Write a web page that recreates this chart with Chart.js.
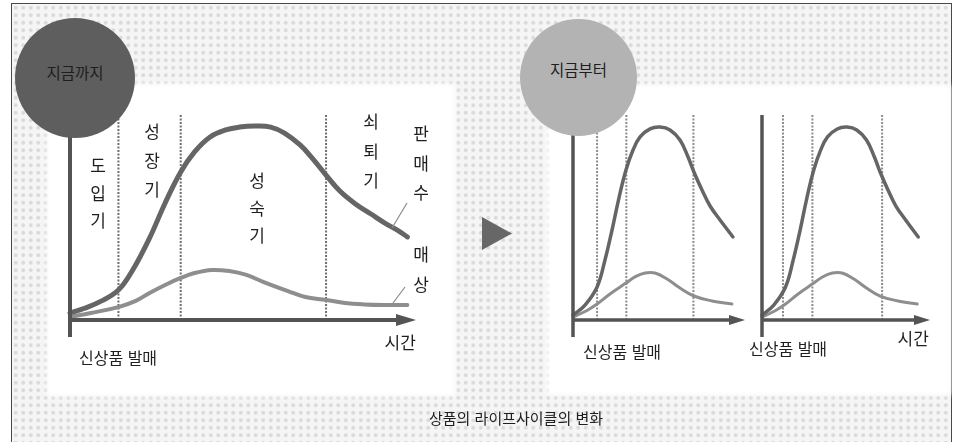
<!DOCTYPE html>
<html lang="ko">
<head>
<meta charset="utf-8">
<title>상품의 라이프사이클의 변화</title>
<script src="https://cdn.jsdelivr.net/npm/chart.js@4/dist/chart.umd.min.js"></script>
<style>
  html, body { margin: 0; padding: 0; background: #fff; }
  body { width: 961px; height: 442px; position: relative; overflow: hidden;
         font-family: "Noto Sans CJK KR", "Noto Sans", sans-serif; color: #1e1e1e; }
  #frame { position: absolute; left: 11px; top: 3px; width: 941px; height: 470px;
           border: 1.5px solid #4a4a4a; box-sizing: border-box;
           background-color: #f5f5f5;
           background-image: radial-gradient(circle, #dadada 0 1.5px, rgba(218,218,218,0) 2.3px);
           background-size: 7.5px 7.5px; }
  .panel { position: absolute; background: #fff; box-shadow: 0 0 5px 3px #fff; }
  canvas { position: absolute; }
  .bubble { position: absolute; border-radius: 50%; z-index: 5; }
  .bubble span { position: absolute; left: 0; right: 0; text-align: center; font-size: 15.5px; }
  .lbl { position: absolute; font-size: 16px; white-space: nowrap; z-index: 6; }
  .vlbl { position: absolute; font-size: 17px; text-align: center; width: 24px; z-index: 6; }
  svg.deco { position: absolute; left: 0; top: 0; z-index: 4; }
</style>
</head>
<body>
<div id="frame"></div>
<div class="panel" style="left:50px; top:87px; width:402px; height:306px;"></div>
<div class="panel" style="left:550px; top:88px; width:398px; height:304px;"></div>

<canvas id="nowChart" width="400" height="270" style="left:50px; top:90px;"></canvas>
<canvas id="nextChartA" width="195" height="270" style="left:555px; top:90px;"></canvas>
<canvas id="nextChartB" width="195" height="270" style="left:750px; top:90px;"></canvas>

<svg class="deco" width="961" height="442">
  <polygon points="482,217 482,250 512,233.5" fill="#676767"/>
  <line x1="407" y1="203" x2="392" y2="228" stroke="#8a8a8a" stroke-width="1.2"/>
  <line x1="405" y1="287" x2="393" y2="303" stroke="#8a8a8a" stroke-width="1.2"/>
</svg>

<div class="bubble" style="left:15px; top:18px; width:120px; height:120px; background:#5e5e5e;">
  <span style="top:43px;">지금까지</span>
</div>
<div class="bubble" style="left:520px; top:19px; width:117px; height:117px; background:#b3b3b3;">
  <span style="top:39px;">지금부터</span>
</div>

<div id="labels"></div>

<script>
// Stage names of the product life cycle
const stageNames = ['도입기', '성장기', '성숙기', '쇠퇴기'];
const seriesNames = ['판매수', '매상'];

// Until now: one long cycle (time 0–100, level 0–100)
const nowUnitsTime = [0, 4, 9, 14, 18, 23, 27.5, 32, 36, 40.5, 45, 49, 53.5, 58, 62, 66.5, 70, 74, 78, 82.5, 87, 91, 95.5, 97.5];
const nowUnits     = [3.4, 5.6, 9.2, 14.6, 24.0, 40.0, 57.1, 72.2, 82.0, 89.3, 92.7, 94.1, 94.6, 94.1, 91.2, 85.4, 79.0, 70.7, 62.9, 56.6, 51.7, 47.3, 42.9, 40.5];
const nowSalesTime = [0, 6, 14, 19, 23, 27.5, 32, 36, 41, 46, 51, 56, 63, 68, 74, 79.5, 85, 91, 97.5];
const nowSales     = [1.5, 3.4, 6.3, 9.3, 13.2, 17.1, 20.5, 22.9, 24.4, 23.9, 22.0, 18.5, 14.1, 11.2, 9.8, 8.3, 7.6, 7.3, 7.3];
const nowStageBounds = [14, 32, 74];

// From now on: shorter, repeated cycles
const nextUnitsTime = [0, 7, 14, 18.6, 22.7, 26.7, 30.8, 34.9, 39, 44.8, 50.6, 56.4, 62.2, 66.9, 70.3, 75, 79.7, 85.5, 93];
const nextUnits     = [2.4, 7.3, 16.1, 29.3, 43.9, 59.5, 73.2, 82.9, 89.3, 93.2, 94.1, 92.7, 87.8, 79.5, 72.2, 63.4, 55.6, 48.8, 40.5];
const nextSalesTime = [0, 7.6, 14, 21.5, 30.8, 36, 41.9, 47.7, 54.7, 62.2, 70.3, 80.8, 92.4];
const nextSales     = [1.5, 4.4, 7.8, 12.7, 18.0, 21.0, 22.9, 22.9, 20.0, 15.6, 11.7, 9.3, 7.8];
const nextStageBoundsA = [14, 31, 70];
const nextStageBoundsB = [12.5, 30, 71.5];

const toPoints = (xs, ys) => xs.map((x, i) => ({ x, y: ys[i] }));

// Axes with an arrow on the time axis, drawn from the chart's own scales
const lifecycleAxes = {
  id: 'lifecycleAxes',
  afterDatasetsDraw(chart, args, o) {
    const { ctx, scales: { x, y } } = chart;
    const x0 = x.getPixelForValue(0);
    const y0 = y.getPixelForValue(0);
    const xEnd = x.getPixelForValue(x.max);
    const yTop = y.getPixelForValue(o.top);
    const yBot = y.getPixelForValue(o.bottom);
    ctx.save();
    ctx.strokeStyle = o.color;
    ctx.fillStyle = o.color;
    ctx.lineWidth = o.width;
    ctx.beginPath();
    ctx.moveTo(x0, yTop);
    ctx.lineTo(x0, yBot);
    ctx.stroke();
    ctx.beginPath();
    ctx.moveTo(x0, y0);
    ctx.lineTo(xEnd - o.head + 2, y0);
    ctx.stroke();
    ctx.beginPath();
    ctx.moveTo(xEnd, y0);
    ctx.lineTo(xEnd - o.head, y0 - o.half);
    ctx.lineTo(xEnd - o.head, y0 + o.half);
    ctx.closePath();
    ctx.fill();
    ctx.restore();
  }
};

function makeCycleChart(id, unitsX, unitsY, salesX, salesY, bounds, look) {
  const boundSets = bounds.map(b => ({
    data: [{ x: b, y: 0 }, { x: b, y: 100 }],
    borderColor: look.dotColor,
    borderWidth: 2,
    borderDash: [2, 1.5],
    pointRadius: 0,
    tension: 0,
    clip: false,
    order: 5
  }));
  return new Chart(document.getElementById(id), {
    type: 'line',
    data: {
      datasets: [
        { label: seriesNames[0], data: toPoints(unitsX, unitsY), borderColor: '#656565',
          borderWidth: look.unitsWidth, tension: 0.4, borderCapStyle: 'round',
          pointRadius: 0, clip: false, order: 1 },
        { label: seriesNames[1], data: toPoints(salesX, salesY), borderColor: '#8e8e8e',
          borderWidth: look.salesWidth, tension: 0.4, borderCapStyle: 'round',
          pointRadius: 0, clip: false, order: 2 },
        ...boundSets
      ]
    },
    options: {
      responsive: false,
      animation: false,
      devicePixelRatio: 1,
      events: [],
      layout: { padding: look.padding },
      plugins: {
        legend: { display: false },
        tooltip: { enabled: false },
        lifecycleAxes: look.axes
      },
      scales: {
        x: { type: 'linear', min: 0, max: 100, display: false },
        y: { type: 'linear', min: 0, max: 100, display: false }
      }
    },
    plugins: [lifecycleAxes]
  });
}

makeCycleChart('nowChart', nowUnitsTime, nowUnits, nowSalesTime, nowSales, nowStageBounds, {
  unitsWidth: 5, salesWidth: 4, dotColor: '#6e6e6e',
  padding: { left: 20, top: 25, right: 34, bottom: 40 },
  axes: { color: '#545454', width: 4, top: 100, bottom: -8.3, head: 20, half: 6 }
});
makeCycleChart('nextChartA', nextUnitsTime, nextUnits, nextSalesTime, nextSales, nextStageBoundsA, {
  unitsWidth: 3.5, salesWidth: 3, dotColor: '#8c8c8c',
  padding: { left: 18, top: 25, right: 5, bottom: 40 },
  axes: { color: '#545454', width: 3.5, top: 100, bottom: -8.3, head: 16, half: 5 }
});
makeCycleChart('nextChartB', nextUnitsTime, nextUnits, nextSalesTime, nextSales, nextStageBoundsB, {
  unitsWidth: 3.5, salesWidth: 3, dotColor: '#8c8c8c',
  padding: { left: 12, top: 25, right: 15, bottom: 40 },
  axes: { color: '#545454', width: 3.5, top: 100, bottom: -8.3, head: 16, half: 5 }
});

// Text labels around the charts
const labels = document.getElementById('labels');
function vertical(text, cx, firstCy, step) {
  [...text].forEach((ch, i) => {
    const d = document.createElement('div');
    d.className = 'vlbl';
    d.textContent = ch;
    d.style.left = (cx - 12) + 'px';
    d.style.top = (firstCy + i * step - 13) + 'px';
    labels.appendChild(d);
  });
}
function horizontal(text, cx, cy, size) {
  const d = document.createElement('div');
  d.className = 'lbl';
  d.textContent = text;
  if (size) d.style.fontSize = size + 'px';
  labels.appendChild(d);
  d.style.left = (cx - d.offsetWidth / 2) + 'px';
  d.style.top = (cy - d.offsetHeight / 2) + 'px';
}

vertical(stageNames[0], 98, 165, 27.5);
vertical(stageNames[1], 152, 131, 29);
vertical(stageNames[2], 257, 180, 27.5);
vertical(stageNames[3], 371, 121, 29.5);
vertical(seriesNames[0], 421, 133, 29.5);
vertical(seriesNames[1], 421, 254, 30);

horizontal('시간', 400, 341, 17);
horizontal('신상품 발매', 118, 357);
horizontal('신상품 발매', 622, 351);
horizontal('신상품 발매', 788, 348);
horizontal('시간', 913, 337, 17);
horizontal('상품의 라이프사이클의 변화', 516, 417, 15);
</script>
</body>
</html>
